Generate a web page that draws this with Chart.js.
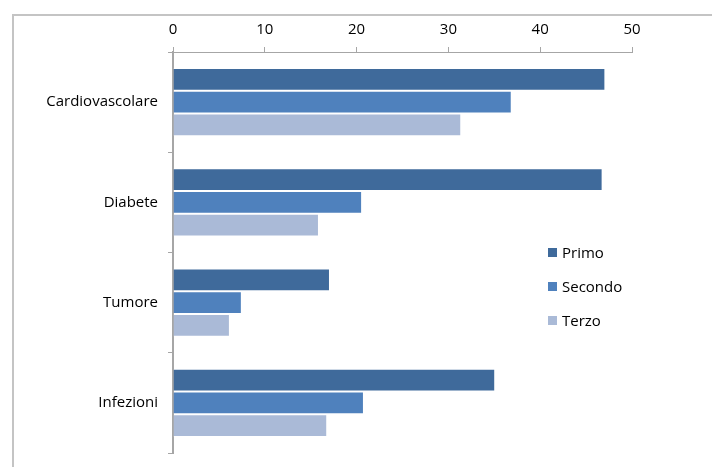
<!DOCTYPE html>
<html>
<head>
<meta charset="utf-8">
<script src="https://cdn.jsdelivr.net/npm/chart.js@4/dist/chart.umd.min.js"></script>
<style>
body{margin:0;background:#fff;font-family:"Open Sans",sans-serif;}
#wrap{position:relative;width:712px;height:467px;overflow:hidden;}
#frame{position:absolute;left:12px;top:14px;width:720px;height:470px;border-top:2px solid #c4c4c4;border-left:2px solid #c4c4c4;box-sizing:border-box;}
#salesChart{position:absolute;left:0;top:0;}
#legend{position:absolute;left:548px;top:242px;font-size:15px;color:#000;}
#legend div{height:34px;line-height:21px;display:flex;align-items:flex-start;}
#legend span.box{display:inline-block;width:9px;height:9px;margin:6px 5px 0 0;}
</style>
</head>
<body>
<div id="wrap">
<div id="frame"></div>
<canvas id="salesChart" width="712" height="467"></canvas>
<div id="legend"></div>
</div>
<script>
let categorie = ["Cardiovascolare", "Diabete", "Tumore", "Infezioni"];
let primo = [47.1, 46.8, 17.1, 35.1];
let secondo = [36.9, 20.6, 7.5, 20.8];
let terzo = [31.4, 15.9, 6.2, 16.8];
let tickValori = [0, 10, 20, 30, 40, 50];

let serie = [
{ label: "Primo", data: primo, color: "#3F6A9B" },
{ label: "Secondo", data: secondo, color: "#4F81BD" },
{ label: "Terzo", data: terzo, color: "#AABAD7" }
];

const font = { family: "'Open Sans', sans-serif", size: 15 };

const chart = new Chart(document.getElementById("salesChart"), {
type: "bar",
data: {
labels: categorie,
datasets: serie.map(s => ({
label: s.label,
data: s.data,
backgroundColor: s.color,
borderColor: "rgba(255,255,255,0.45)",
borderWidth: 1,
barPercentage: 1,
categoryPercentage: 0.68
}))
},
options: {
indexAxis: "y",
responsive: false,
animation: false,
layout: { padding: { left: 0, top: 0, right: 80, bottom: 14 } },
plugins: { legend: { display: false }, tooltip: { enabled: false } },
scales: {
x: {
position: "top",
min: 0,
max: 50,
afterBuildTicks: scale => { scale.ticks = tickValori.map(v => ({ value: v })); },
afterFit: scale => { scale.height = 52; scale.paddingLeft = 0; scale.paddingRight = 0; },
ticks: { color: "#000", font: font, padding: 8 },
grid: { drawOnChartArea: false, tickLength: 5, color: "#a6a6a6" },
border: { color: "#a6a6a6", width: 1 }
},
y: {
afterFit: scale => { scale.width = 173; scale.paddingTop = 0; scale.paddingBottom = 0; },
ticks: { color: "#000", font: font, padding: 10 },
grid: { drawOnChartArea: false, tickLength: 5, offset: true, color: "#a6a6a6" },
border: { color: "#a6a6a6", width: 2 }
}
}
}
});

let html = "";
serie.forEach(s => {
html += `<div><span class="box" style="background:${s.color}"></span>${s.label}</div>`;
});
document.getElementById("legend").innerHTML = html;
</script>
</body>
</html>
